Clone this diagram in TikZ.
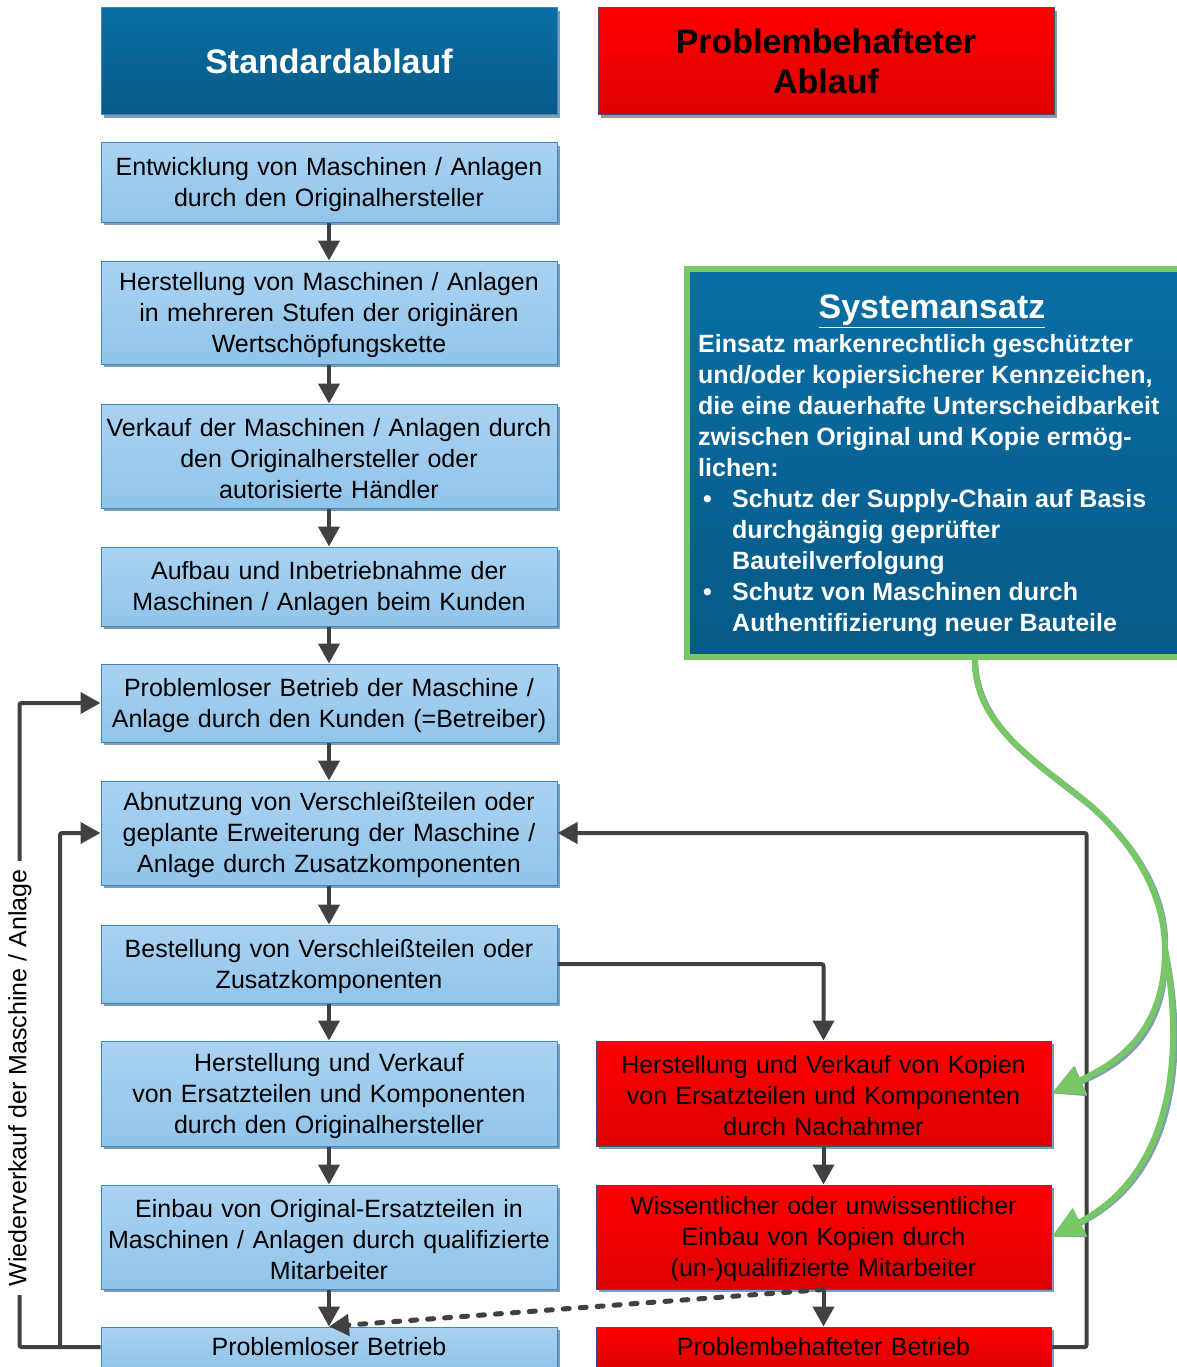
\documentclass[tikz,border=0pt]{standalone}
\usepackage{fontspec}
\setmainfont{Liberation Sans}
\usetikzlibrary{arrows.meta,shadows,calc}
\definecolor{lbtop}{HTML}{AAD2F1}
\definecolor{lbbot}{HTML}{91C4EA}
\definecolor{lbedge}{HTML}{3B87C2}
\definecolor{dbtop}{HTML}{0A6EA4}
\definecolor{dbbot}{HTML}{065A87}
\definecolor{rdtop}{HTML}{FF0000}
\definecolor{rdbot}{HTML}{DD0000}
\definecolor{rdedge}{HTML}{4A4A70}
\definecolor{shad}{HTML}{7E9CB3}
\definecolor{arr}{HTML}{414141}
\definecolor{grn}{HTML}{78C766}
\tikzset{
  box/.style={rectangle, line width=1pt, minimum width=456pt, text width=452pt,
    align=center, inner sep=0pt, font=\fontsize{25}{31}\selectfont,
    drop shadow={shadow xshift=3pt, shadow yshift=-3pt, fill=shad, opacity=1}},
  bluebox/.style={box, draw=lbedge, top color=lbtop, bottom color=lbbot},
  redbox/.style={box, draw=rdedge, top color=rdtop, bottom color=rdbot, minimum width=455pt},
  bluem/.style={bluebox, text height=23pt},
  redm/.style={redbox, text height=23pt},
  hdrblue/.style={box, draw=lbedge, top color=dbtop, bottom color=dbbot, text=white,
    font=\fontsize{34}{40}\selectfont\bfseries, minimum height=107pt},
  hdrred/.style={box, draw=rdedge, top color=rdtop, bottom color=rdbot, text=black,
    font=\fontsize{34}{40}\selectfont\bfseries, minimum height=107pt},
  flow/.style={draw=arr, line width=4pt, rounded corners=2pt, -{Triangle[length=20pt,width=21pt]}},
  dashflow/.style={draw=arr, line width=5pt, line cap=round, dash pattern=on 6pt off 11pt,
    -{Triangle[length=20pt,width=21pt]}},
  greenarr/.style={draw=grn, line width=6pt, -{Triangle[length=32pt,width=30pt]}},
  greenshad/.style={draw=shad, line width=6pt, -{Triangle[length=32pt,width=30pt]}},
  systxt/.style={text=white, font=\fontsize{25}{31}\selectfont\bfseries, align=left, inner sep=0pt},
}
\newcommand{\bul}{\makebox[34pt][l]{\hspace*{5pt}•}}
\newcommand{\ind}{\hspace*{34pt}}
\begin{document}
\begin{tikzpicture}[x=1pt,y=-1pt]
\useasboundingbox (0,0) rectangle (1176,1367);
% headers
\node[hdrblue] (h1) at (329,61.5) {Standardablauf};
\node[hdrred] (h2) at (826,61.5) {Problembehafteter\\Ablauf};
% left column
\node[bluem, minimum height=79pt] (b1) at (329,182.5) {Entwicklung von Maschinen / Anlagen\\durch den Originalhersteller};
\node[bluem, minimum height=103pt] (b2) at (329,312.5) {Herstellung von Maschinen / Anlagen\\in mehreren Stufen der origin\"aren\\Wertsch\"opfungskette};
\node[bluem, minimum height=104pt] (b3) at (329,456) {Verkauf der Maschinen / Anlagen durch\\den Originalhersteller oder\\autorisierte H\"andler};
\node[bluem, minimum height=79pt] (b4) at (329,586.5) {Aufbau und Inbetriebnahme der\\Maschinen / Anlagen beim Kunden};
\node[bluem, minimum height=78pt] (b5) at (329,703) {Problemloser Betrieb der Maschine /\\Anlage durch den Kunden (=Betreiber)};
\node[bluem, minimum height=104pt] (b6) at (329,833) {Abnutzung von Verschlei\ss teilen oder\\geplante Erweiterung der Maschine /\\Anlage durch Zusatzkomponenten};
\node[bluem, minimum height=78pt] (b7) at (329,964) {Bestellung von Verschlei\ss teilen oder\\Zusatzkomponenten};
\node[bluem, minimum height=105pt] (b8) at (329,1093.5) {Herstellung und Verkauf\\von Ersatzteilen und Komponenten\\durch den Originalhersteller};
\node[bluem, minimum height=104pt] (b9) at (329,1237) {Einbau von Original-Ersatzteilen in\\Maschinen / Anlagen durch qualifizierte\\Mitarbeiter};
\node[bluebox, minimum height=40pt] (b10) at (329,1347) {Problemloser Betrieb};
% right column
\node[redm, minimum height=105pt] (r1) at (823.5,1093.5) {Herstellung und Verkauf von Kopien\\von Ersatzteilen und Komponenten\\durch Nachahmer};
\node[redm, minimum height=104pt] (r2) at (823.5,1237) {Wissentlicher oder unwissentlicher\\Einbau von Kopien durch\\(un-)qualifizierte Mitarbeiter};
\node[redbox, minimum height=40pt] (r3) at (823.5,1347) {Problembehafteter Betrieb};
% system box
\node[rectangle, draw=grn, line width=6pt, top color=dbtop, bottom color=dbbot,
  minimum width=513pt, minimum height=388pt, inner sep=0pt,
  drop shadow={shadow xshift=3pt, shadow yshift=-3pt, fill=shad, opacity=1}] (sys) at (943.5,463) {};
\node[systxt, font=\fontsize{34}{40}\selectfont\bfseries] (systitle) at (932,311) {\underline{Systemansatz}};
\node[systxt, anchor=north west] (sysbody) at (698,334) {Einsatz markenrechtlich gesch\"utzter\\
und/oder kopiersicherer Kennzeichen,\\
die eine dauerhafte Unterscheidbarkeit\\
zwischen Original und Kopie erm\"og-\\
lichen:\\
\bul Schutz der Supply-Chain auf Basis\\
\ind durchg\"angig gepr\"ufter\\
\ind Bauteilverfolgung\\
\bul Schutz von Maschinen durch\\
\ind Authentifizierung neuer Bauteile};
% vertical flow
\foreach \a/\b in {b1/b2,b2/b3,b3/b4,b4/b5,b5/b6,b6/b7,b7/b8,b8/b9,b9/b10,r1/r2,r2/r3}
  \draw[flow] (\a) -- (\b);
% loops
\draw[flow] (b10.west) -- ++(-81,0) |- (b5.west);
\coordinate (j1) at (60,1347);
\draw[flow] (j1) |- (b6.west);
\node[rotate=90, fill=white, inner sep=9pt, font=\fontsize{25}{31}\selectfont] (wv) at (20,1078) {Wiederverkauf der Maschine / Anlage};
\draw[flow] (r3.east) -- ++(35,0) |- (b6.east);
\draw[flow] (b7.east) -| (r1.north);
\draw[dashflow] (r2.south) -- (b10.north);
% green arrows
\coordinate (gs) at (975,658);
\coordinate (gm) at (1165,950);
\begin{scope}[xshift=2.5pt,yshift=-2.5pt]
\draw[draw=shad, line width=6pt] (gs) .. controls (973,725) and (1035,760) .. (1090,805) .. controls (1140,850) and (1165,900) .. (gm);
\draw[greenshad] (gm) .. controls (1165,1030) and (1120,1062) .. (r1.east);
\draw[greenshad] (gm) .. controls (1182,1040) and (1180,1170) .. (r2.east);
\end{scope}
\draw[draw=grn, line width=6pt] (gs) .. controls (973,725) and (1035,760) .. (1090,805) .. controls (1140,850) and (1165,900) .. (gm);
\draw[greenarr] (gm) .. controls (1165,1030) and (1120,1062) .. (r1.east);
\draw[greenarr] (gm) .. controls (1182,1040) and (1180,1170) .. (r2.east);
\end{tikzpicture}
\end{document}
